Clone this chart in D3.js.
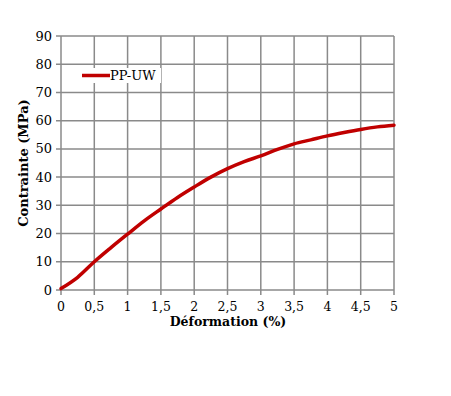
<!DOCTYPE html>
<html>
<head>
<meta charset="utf-8">
<script src="https://cdn.jsdelivr.net/npm/d3@7"></script>
<style>
  body { margin: 0; background: #fff; }
  svg text { font-family: "DejaVu Serif", "Liberation Serif", serif; fill: #000; }
</style>
</head>
<body>
<script>
// strain (%) and stress (MPa)
var strain = [0, 0.25, 0.5, 0.75, 1, 1.25, 1.5, 1.75, 2, 2.25, 2.5, 2.75, 3, 3.25, 3.5, 3.75, 4, 4.25, 4.5, 4.75, 5];
var stress = [0.5, 4.5, 10, 15, 19.8, 24.5, 28.7, 32.8, 36.5, 40, 43, 45.5, 47.5, 49.8, 51.8, 53.2, 54.6, 55.8, 56.9, 57.8, 58.4];
var xTicks = [0, 0.5, 1, 1.5, 2, 2.5, 3, 3.5, 4, 4.5, 5];
var yTicks = [0, 10, 20, 30, 40, 50, 60, 70, 80, 90];
var seriesName = "PP-UW";

var width = 451, height = 396;
var margin = {left: 61, right: 57, top: 36, bottom: 106};

var svg = d3.select("body").append("svg")
    .attr("width", width).attr("height", height);

var x = d3.scaleLinear().domain([0, 5]).range([margin.left, width - margin.right]);
var y = d3.scaleLinear().domain([0, 90]).range([height - margin.bottom, margin.top]);

var fmt = function(d) { return String(d).replace(".", ","); };

// grid
svg.append("g").selectAll("line.v")
    .data(xTicks).enter().append("line")
    .attr("x1", function(d) { return x(d); }).attr("x2", function(d) { return x(d); })
    .attr("y1", y(90)).attr("y2", y(0) + 5)
    .attr("stroke", "#8a8a8a").attr("stroke-width", 1.5);

svg.append("g").selectAll("line.h")
    .data(yTicks).enter().append("line")
    .attr("x1", x(0) - 5).attr("x2", x(5))
    .attr("y1", function(d) { return y(d); }).attr("y2", function(d) { return y(d); })
    .attr("stroke", "#8a8a8a").attr("stroke-width", 1.5);

// tick labels
svg.append("g").selectAll("text")
    .data(xTicks).enter().append("text")
    .attr("x", function(d) { return x(d); })
    .attr("y", y(0) + 21)
    .attr("text-anchor", "middle")
    .attr("font-size", 12.5)
    .text(fmt);

svg.append("g").selectAll("text")
    .data(yTicks).enter().append("text")
    .attr("x", x(0) - 9)
    .attr("y", function(d) { return y(d) + 4.5; })
    .attr("text-anchor", "end")
    .attr("font-size", 13)
    .text(fmt);

// axis titles
svg.append("text")
    .attr("x", 228).attr("y", y(0) + 36)
    .attr("text-anchor", "middle")
    .attr("font-size", 12.5).attr("font-weight", "bold")
    .text("Déformation (%)");

svg.append("text")
    .attr("transform", "translate(28," + ((y(0) + y(90)) / 2) + ") rotate(-90)")
    .attr("text-anchor", "middle")
    .attr("font-size", 13).attr("font-weight", "bold")
    .text("Contrainte (MPa)");

// curve
var line = d3.line()
    .x(function(d, i) { return x(strain[i]); })
    .y(function(d) { return y(d); })
    .curve(d3.curveMonotoneX);

svg.append("path")
    .datum(stress)
    .attr("d", line)
    .attr("fill", "none")
    .attr("stroke", "#c00000")
    .attr("stroke-width", 3.5)
    .attr("stroke-linecap", "round");

// legend
var legend = svg.append("g").attr("transform", "translate(80,68)");
legend.append("rect")
    .attr("width", 81).attr("height", 15)
    .attr("fill", "#fff");
legend.append("line")
    .attr("x1", 2).attr("x2", 30)
    .attr("y1", 7.5).attr("y2", 7.5)
    .attr("stroke", "#c00000").attr("stroke-width", 3.5);
legend.append("text")
    .attr("x", 30).attr("y", 12)
    .attr("font-size", 13)
    .text(seriesName);
</script>
</body>
</html>
